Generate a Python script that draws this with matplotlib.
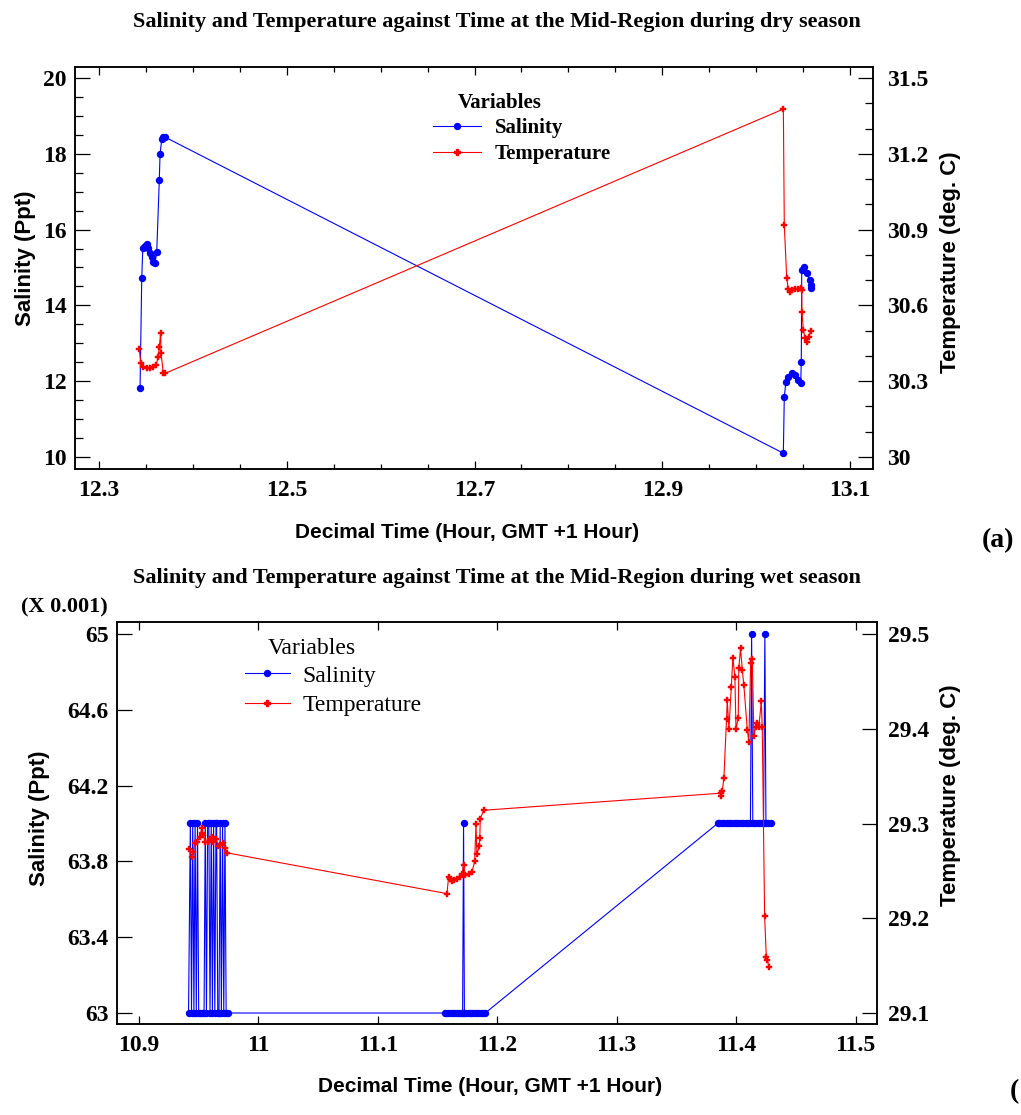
import matplotlib
matplotlib.use("Agg")
import matplotlib.pyplot as plt
from matplotlib.ticker import MultipleLocator, FixedLocator
from matplotlib.lines import Line2D

# ---------------- DATA : dry season (a) ----------------
t_sal_dry = [12.3437, 12.3455, 12.3466, 12.3490, 12.3508, 12.3525, 12.3543, 12.3561,
             12.3578, 12.3597, 12.3615, 12.3642, 12.3650, 12.3668, 12.3685, 12.3703,
             13.0290, 13.0300, 13.0318, 13.0343, 13.0379, 13.0414, 13.0449, 13.0475,
             13.0481, 13.0486, 13.0513, 13.0541, 13.0569, 13.0584, 13.0580]
sal_dry = [11.81, 14.72, 15.51, 15.57, 15.62, 15.51, 15.39, 15.28,
           15.15, 15.13, 15.42, 17.31, 17.99, 18.38, 18.44, 18.44,
           10.10, 11.59, 11.99, 12.10, 12.22, 12.16, 12.03, 11.94,
           12.51, 14.93, 15.02, 14.85, 14.67, 14.54, 14.45]

t_temp_dry = [12.3429, 12.3444, 12.3472, 12.3508, 12.3543, 12.3578, 12.3607, 12.3632,
              12.3642, 12.3657, 12.3660, 12.3685, 12.3703,
              13.0290, 13.0300, 13.0326, 13.0343, 13.0361, 13.0382, 13.0414, 13.0446,
              13.0475, 13.0486, 13.0488, 13.0503, 13.0521, 13.0541, 13.0558, 13.0584]
temp_dry = [30.426, 30.373, 30.357, 30.351, 30.351, 30.357, 30.364, 30.397,
            30.437, 30.492, 30.410, 30.334, 30.331,
            31.377, 30.918, 30.707, 30.664, 30.654, 30.660, 30.664, 30.666,
            30.668, 30.661, 30.575, 30.503, 30.470, 30.456, 30.476, 30.500]

# ---------------- DATA : wet season (b) ----------------
# salinity shown in units of 0.001 ppt
t_sal_wet = [10.9415, 10.9430, 10.9440, 10.9450, 10.9460, 10.9470, 10.9480, 10.9490,
             10.9500, 10.9515, 10.9530, 10.9545, 10.9555, 10.9565, 10.9575, 10.9585,
             10.9595, 10.9605, 10.9615, 10.9625, 10.9635, 10.9645, 10.9650, 10.9660,
             10.9670, 10.9680, 10.9690, 10.9700, 10.9710, 10.9720, 10.9730, 10.9745,
             11.1565, 11.1580, 11.1600, 11.1620, 11.1640, 11.1660, 11.1680, 11.1700,
             11.1710, 11.1718, 11.1725, 11.1740, 11.1760, 11.1780, 11.1800, 11.1820,
             11.1840, 11.1860, 11.1880, 11.1900,
             11.3845, 11.3860, 11.3880, 11.3900, 11.3920, 11.3940, 11.3960, 11.3980,
             11.4000, 11.4020, 11.4040, 11.4060, 11.4080, 11.4100, 11.4120, 11.4130,
             11.4140, 11.4160, 11.4180, 11.4200, 11.4220, 11.4230, 11.4241, 11.4250,
             11.4270, 11.4290]
sal_wet = [63, 64, 63, 64, 63, 64, 63, 64,
           63, 63, 63, 63, 64, 63, 64, 64,
           63, 64, 63, 64, 63, 64, 64, 63,
           63, 64, 63, 64, 63, 64, 63, 63,
           63, 63, 63, 63, 63, 63, 63, 63,
           63, 64, 63, 63, 63, 63, 63, 63,
           63, 63, 63, 63,
           64, 64, 64, 64, 64, 64, 64, 64,
           64, 64, 64, 64, 64, 64, 64, 65,
           64, 64, 64, 64, 64, 64, 65, 64,
           64, 64]

t_temp_wet = [10.9422, 10.9442, 10.9450, 10.9469, 10.9489, 10.9511, 10.9526, 10.9530,
              10.9539, 10.9553, 10.9581, 10.9595, 10.9609, 10.9623, 10.9645, 10.9665,
              10.9679, 10.9702, 10.9721, 10.9740,
              11.1579, 11.1593, 11.1607, 11.1621, 11.1640, 11.1663, 11.1685, 11.1705,
              11.1718, 11.1733, 11.1760, 11.1789, 11.1811, 11.1822, 11.1830, 11.1850,
              11.1854, 11.1858, 11.1886,
              11.3870, 11.3876, 11.3884, 11.3898, 11.3920, 11.3926, 11.3940, 11.3960,
              11.3973, 11.3990, 11.3999, 11.4018, 11.4023, 11.4037, 11.4052, 11.4065,
              11.4094, 11.4107, 11.4122, 11.4136, 11.4149, 11.4163, 11.4178, 11.4191,
              11.4211, 11.4219, 11.4239, 11.4253, 11.4262, 11.4275]
temp_wet = [29.273, 29.265, 29.270, 29.279, 29.281, 29.286, 29.295, 29.290,
            29.288, 29.281, 29.281, 29.284, 29.286, 29.281, 29.284, 29.276,
            29.277, 29.279, 29.274, 29.269,
            29.226, 29.244, 29.241, 29.239, 29.240, 29.241, 29.244, 29.247,
            29.256, 29.246, 29.247, 29.249, 29.260, 29.299, 29.268, 29.276,
            29.285, 29.305, 29.314,
            29.332, 29.329, 29.334, 29.348, 29.410, 29.430, 29.400, 29.444,
            29.475, 29.455, 29.400, 29.411, 29.464, 29.485, 29.462, 29.446,
            29.399, 29.386, 29.469, 29.474, 29.392, 29.402, 29.406, 29.402,
            29.429, 29.402, 29.202, 29.159, 29.156, 29.149]

sal_ticks_dry = [10, 12, 14, 16, 18, 20]
temp_ticks_dry = [30.0, 30.3, 30.6, 30.9, 31.2, 31.5]
temp_ticklabels_dry = ["30", "30.3", "30.6", "30.9", "31.2", "31.5"]
time_ticks_dry = [12.3, 12.5, 12.7, 12.9, 13.1]
sal_ticks_wet = [63, 63.4, 63.8, 64.2, 64.6, 65]
temp_ticks_wet = [29.1, 29.2, 29.3, 29.4, 29.5]
time_ticks_wet = [10.9, 11.0, 11.1, 11.2, 11.3, 11.4, 11.5]
time_ticklabels_wet = ["10.9", "11", "11.1", "11.2", "11.3", "11.4", "11.5"]

# ---------------- FIGURE ----------------
W, H = 1021, 1115
fig = plt.figure(figsize=(W / 100, H / 100), dpi=100)
SERIF = "Liberation Serif"
SANS = "Liberation Sans"
BLUE = "#0000ff"
RED = "#ff0000"
LW = 0.8
TICK_FS = 17
TITLE_FS = 16
XLAB_FS = 15
YLAB_FS = 16


def fx(px):
    return px / W


def fy(py):
    return 1 - py / H


def axes_px(l, t, r, b):
    return fig.add_axes([fx(l), fy(b), (r - l) / W, (b - t) / H])


def style(ax, ax2, tick_fs):
    for a in (ax, ax2):
        for s in a.spines.values():
            s.set_linewidth(1.1)
        for lab in a.get_xticklabels() + a.get_yticklabels():
            lab.set_fontfamily(SERIF)
            lab.set_fontweight("bold")
            lab.set_fontsize(tick_fs)


def blue_line(ax, x, y):
    ax.plot(x, y, color=BLUE, lw=LW, marker="o", ms=4.3, mec=BLUE, mfc=BLUE)


def red_line(ax, x, y):
    ax.plot(x, y, color=RED, lw=LW, marker="P", ms=4.0, mec=RED, mfc=RED, mew=0.3)


# ====== Panel (a) ======
ax = axes_px(75, 67, 873, 469)
ax2 = ax.twinx()
blue_line(ax, t_sal_dry, sal_dry)
red_line(ax2, t_temp_dry, temp_dry)
ax.set_xlim(12.2744, 13.1245)
ax.set_ylim(9.683, 20.29)
ax2.set_ylim(29.9525, 31.5435)
ax.xaxis.set_major_locator(FixedLocator(time_ticks_dry))
ax.xaxis.set_minor_locator(MultipleLocator(0.05))
ax.yaxis.set_major_locator(FixedLocator(sal_ticks_dry))
ax.yaxis.set_minor_locator(MultipleLocator(0.5))
ax2.yaxis.set_major_locator(FixedLocator(temp_ticks_dry))
ax2.set_yticklabels(temp_ticklabels_dry)
ax2.yaxis.set_minor_locator(MultipleLocator(0.1))
ax.set_xticklabels([f"{v:g}" for v in time_ticks_dry])
ax.set_yticklabels([str(v) for v in sal_ticks_dry])
ax.tick_params(axis="x", which="major", direction="in", top=True, length=6, width=0.9, pad=8)
ax.tick_params(axis="x", which="minor", direction="in", top=True, length=3.5, width=0.9)
ax.tick_params(axis="y", which="major", direction="in", length=11, width=0.9, pad=6)
ax.tick_params(axis="y", which="minor", direction="in", length=5.5, width=0.9)
ax2.tick_params(axis="y", which="major", direction="in", length=11, width=0.9, pad=10)
ax2.tick_params(axis="y", which="minor", direction="in", length=5.5, width=0.9)
style(ax, ax2, TICK_FS)

fig.text(fx(497), fy(22), "Salinity and Temperature against Time at the Mid-Region during dry season",
         ha="center", va="center", family=SERIF, weight="bold", fontsize=TITLE_FS)
fig.text(fx(467), fy(533), "Decimal Time (Hour, GMT +1 Hour)", ha="center", va="center",
         family=SANS, weight="bold", fontsize=XLAB_FS)
fig.text(fx(25), fy(258), "Salinity (Ppt)", ha="center", va="center", rotation=90,
         family=SANS, weight="bold", fontsize=YLAB_FS)
fig.text(fx(950), fy(262), "Temperature (deg. C)", ha="center", va="center", rotation=90,
         family=SANS, weight="bold", fontsize=YLAB_FS)
fig.text(fx(998), fy(541), "(a)", ha="center", va="center", family=SERIF, weight="bold", fontsize=20)

fig.text(fx(500), fy(103), "Variables", ha="center", va="center", family=SERIF, weight="bold", fontsize=15)
h1 = Line2D([], [], color=BLUE, lw=LW, marker="o", ms=4.3)
h2 = Line2D([], [], color=RED, lw=LW, marker="P", ms=4.0)
fig.legend([h1, h2], ["Salinity", "Temperature"], loc="upper left",
           bbox_to_anchor=(fx(433), fy(118)), bbox_transform=fig.transFigure,
           frameon=False, borderpad=0, borderaxespad=0, handlelength=2.3,
           handletextpad=0.65, labelspacing=0.3,
           prop={"family": SERIF, "weight": "bold", "size": 15})

# ====== Panel (b) ======
bx = axes_px(117, 622, 877, 1024)
bx2 = bx.twinx()
blue_line(bx, t_sal_wet, sal_wet)
red_line(bx2, t_temp_wet, temp_wet)
bx.set_xlim(10.8816, 11.518)
bx.set_ylim(62.942, 65.063)
bx2.set_ylim(29.0884, 29.5127)
bx.xaxis.set_major_locator(FixedLocator(time_ticks_wet))
bx.set_xticklabels(time_ticklabels_wet)
bx.yaxis.set_major_locator(FixedLocator(sal_ticks_wet))
bx.set_yticklabels([f"{v:g}" for v in sal_ticks_wet])
bx2.yaxis.set_major_locator(FixedLocator(temp_ticks_wet))
bx2.set_yticklabels([f"{v:g}" for v in temp_ticks_wet])
bx.tick_params(axis="x", which="major", direction="in", top=True, length=6, width=0.9, pad=8)
bx.tick_params(axis="y", which="major", direction="in", length=11, width=0.9, pad=6)
bx2.tick_params(axis="y", which="major", direction="in", length=11, width=0.9, pad=8)
style(bx, bx2, TICK_FS)

fig.text(fx(497), fy(578), "Salinity and Temperature against Time at the Mid-Region during wet season",
         ha="center", va="center", family=SERIF, weight="bold", fontsize=TITLE_FS)
fig.text(fx(490), fy(1086), "Decimal Time (Hour, GMT +1 Hour)", ha="center", va="center",
         family=SANS, weight="bold", fontsize=XLAB_FS)
fig.text(fx(40), fy(818), "Salinity (Ppt)", ha="center", va="center", rotation=90,
         family=SANS, weight="bold", fontsize=YLAB_FS)
fig.text(fx(950), fy(795), "Temperature (deg. C)", ha="center", va="center", rotation=90,
         family=SANS, weight="bold", fontsize=YLAB_FS)
fig.text(fx(64), fy(607), "(X 0.001)", ha="center", va="center", family=SERIF, weight="bold", fontsize=16)
fig.text(fx(1010), fy(1092), "(", ha="left", va="center", family=SERIF, weight="bold", fontsize=20)

fig.text(fx(312), fy(648), "Variables", ha="center", va="center", family=SERIF, fontsize=17)
fig.legend([h1, h2], ["Salinity", "Temperature"], loc="upper left",
           bbox_to_anchor=(fx(245), fy(665)), bbox_transform=fig.transFigure,
           frameon=False, borderpad=0, borderaxespad=0, handlelength=1.9,
           handletextpad=0.55, labelspacing=0.35,
           prop={"family": SERIF, "size": 17})

fig.savefig("out.png", dpi=100)
